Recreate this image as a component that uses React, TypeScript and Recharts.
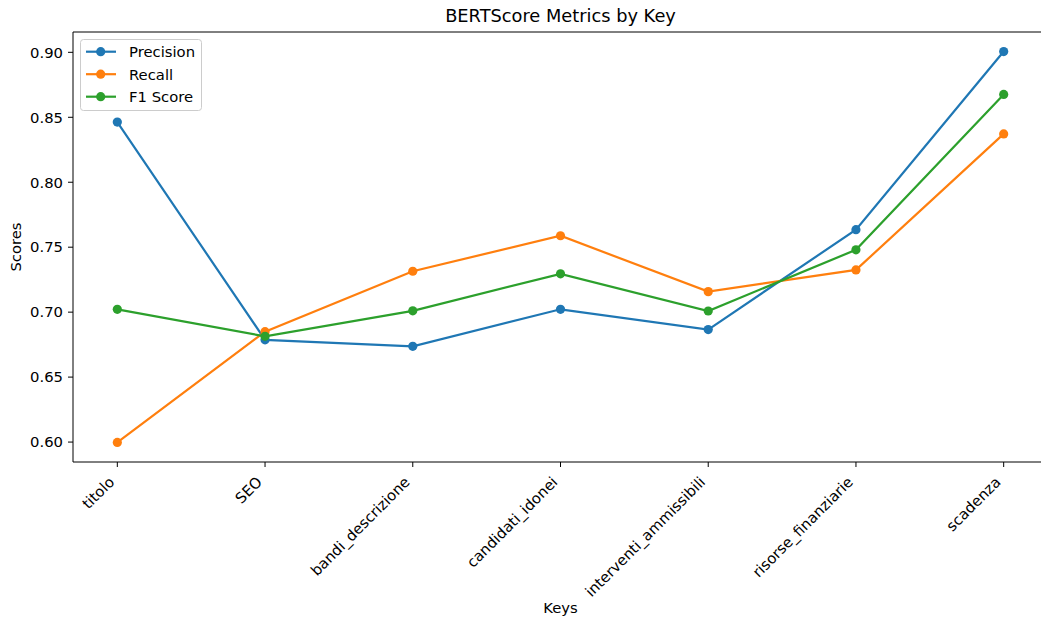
import React from 'react';
import { LineChart, Line, XAxis, YAxis, ReferenceLine } from 'recharts';

// Keys evaluated and their BERTScore metrics
const keys = [
  'titolo',
  'SEO',
  'bandi_descrizione',
  'candidati_idonei',
  'interventi_ammissibili',
  'risorse_finanziarie',
  'scadenza',
];
const precision = [0.8463, 0.6787, 0.6737, 0.7022, 0.6866, 0.7635, 0.9006];
const recall = [0.5997, 0.685, 0.7315, 0.7588, 0.7158, 0.7325, 0.8372];
const f1Score = [0.7022, 0.6814, 0.701, 0.7295, 0.7009, 0.748, 0.8676];
const yTicks = [0.6, 0.65, 0.7, 0.75, 0.8, 0.85, 0.9];

const series = [
  { key: 'precision', name: 'Precision', color: '#1f77b4', values: precision },
  { key: 'recall', name: 'Recall', color: '#ff7f0e', values: recall },
  { key: 'f1', name: 'F1 Score', color: '#2ca02c', values: f1Score },
];

const data = keys.map((k, i) => ({
  i,
  key: k,
  precision: precision[i],
  recall: recall[i],
  f1: f1Score[i],
}));

// Autoscale with 5% padding on both axes
const allVals = [...precision, ...recall, ...f1Score];
const vMin = Math.min(...allVals);
const vMax = Math.max(...allVals);
const vPad = (vMax - vMin) * 0.05;
const yDomain: [number, number] = [vMin - vPad, vMax + vPad];
const xPad = (keys.length - 1) * 0.05;
const xDomain: [number, number] = [-xPad, keys.length - 1 + xPad];

const FONT = '"DejaVu Sans", sans-serif';
const TICK_FS = 14.8;
const W = 1060;
const H = 621;

const XTick = (props: any) => {
  const { x, y, payload } = props;
  const label = keys[payload.value] ?? '';
  const ax = x - 2;
  const ay = y + 11;
  return (
    <text
      x={ax}
      y={ay}
      textAnchor="end"
      transform={`rotate(-45, ${ax}, ${ay})`}
      fontFamily={FONT}
      fontSize={TICK_FS}
      fill="#000"
    >
      {label}
    </text>
  );
};

const YTick = (props: any) => {
  const { x, y, payload } = props;
  return (
    <text
      x={x}
      y={y + 5.3}
      textAnchor="end"
      fontFamily={FONT}
      fontSize={TICK_FS}
      fill="#000"
    >
      {Number(payload.value).toFixed(2)}
    </text>
  );
};

export default function App() {
  return (
    <div
      style={{
        position: 'absolute',
        left: 0,
        top: 0,
        width: 1041,
        height: H,
        overflow: 'hidden',
        background: '#fff',
      }}
    >
      <LineChart
        width={W}
        height={H}
        data={data}
        margin={{ top: 32, right: 12, bottom: 0, left: 0 }}
      >
        <XAxis
          dataKey="i"
          type="number"
          domain={xDomain}
          ticks={keys.map((_, i) => i)}
          allowDataOverflow
          height={159}
          tickSize={5}
          tickMargin={5}
          tick={<XTick />}
          axisLine={{ stroke: '#000', strokeWidth: 1 }}
          tickLine={{ stroke: '#000', strokeWidth: 1 }}
        />
        <YAxis
          type="number"
          domain={yDomain}
          ticks={yTicks}
          allowDataOverflow
          width={73}
          tickSize={5}
          tickMargin={5}
          tick={<YTick />}
          axisLine={{ stroke: '#000', strokeWidth: 1 }}
          tickLine={{ stroke: '#000', strokeWidth: 1 }}
        />
        {/* top and right frame edges */}
        <ReferenceLine y={yDomain[1]} stroke="#000" strokeWidth={1} ifOverflow="visible" />
        <ReferenceLine x={xDomain[1]} stroke="#000" strokeWidth={1} ifOverflow="visible" />
        {series.map((s) => (
          <Line
            key={s.key}
            dataKey={s.key}
            name={s.name}
            stroke={s.color}
            strokeWidth={2.2}
            type="linear"
            isAnimationActive={false}
            dot={{ r: 4.6, fill: s.color, stroke: s.color, strokeWidth: 0 }}
            activeDot={false}
          />
        ))}
      </LineChart>

      {/* Title and axis labels */}
      <svg
        width={1041}
        height={H}
        style={{ position: 'absolute', left: 0, top: 0, pointerEvents: 'none' }}
      >
        <text
          x={560.5}
          y={22}
          textAnchor="middle"
          fontFamily={FONT}
          fontSize={17.8}
          fill="#000"
        >
          BERTScore Metrics by Key
        </text>
        <text
          x={560.5}
          y={613}
          textAnchor="middle"
          fontFamily={FONT}
          fontSize={TICK_FS}
          fill="#000"
        >
          Keys
        </text>
        <text
          x={21}
          y={247}
          textAnchor="middle"
          transform="rotate(-90, 21, 247)"
          fontFamily={FONT}
          fontSize={TICK_FS}
          fill="#000"
        >
          Scores
        </text>

        {/* Legend */}
        <rect
          x={80.5}
          y={39.5}
          width={121}
          height={71}
          rx={3}
          ry={3}
          fill="rgba(255,255,255,0.8)"
          stroke="#cccccc"
          strokeWidth={1}
        />
        {series.map((s, idx) => {
          const cy = 51.7 + idx * 22.5;
          return (
            <g key={s.key}>
              <line x1={86} x2={116} y1={cy} y2={cy} stroke={s.color} strokeWidth={2.2} />
              <circle cx={100.7} cy={cy} r={4.6} fill={s.color} />
              <text
                x={129}
                y={cy + 5.3}
                fontFamily={FONT}
                fontSize={TICK_FS}
                fill="#000"
              >
                {s.name}
              </text>
            </g>
          );
        })}
      </svg>
    </div>
  );
}
